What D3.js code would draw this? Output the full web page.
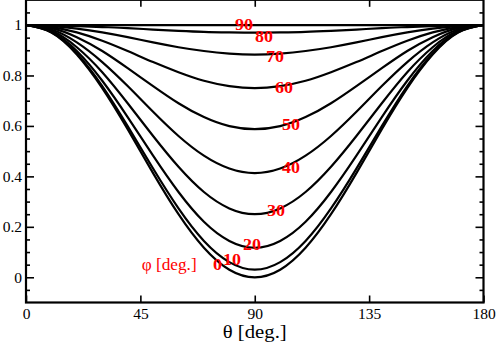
<!DOCTYPE html>
<html>
<head>
<meta charset="utf-8">
<script src="https://cdn.jsdelivr.net/npm/d3@7"></script>
<style>
  html, body { margin: 0; padding: 0; background: #fff; }
  svg { display: block; }
</style>
</head>
<body>
<svg id="chart" width="498" height="342"></svg>
<script>
// ---- data ----
const theta = [0, 10, 20, 30, 40, 50, 60, 70, 80, 90, 100, 110, 120, 130, 140, 150, 160, 170, 180];
const phiLabels = ["0", "10", "20", "30", "40", "50", "60", "70", "80", "90"];
const phi0  = [1, 0.970, 0.883, 0.750, 0.587, 0.413, 0.250, 0.117, 0.030, 0.000, 0.030, 0.117, 0.250, 0.413, 0.587, 0.750, 0.883, 0.970, 1];
const phi10 = [1, 0.971, 0.887, 0.758, 0.599, 0.431, 0.273, 0.144, 0.060, 0.030, 0.060, 0.144, 0.273, 0.431, 0.599, 0.758, 0.887, 0.971, 1];
const phi20 = [1, 0.973, 0.897, 0.779, 0.635, 0.482, 0.338, 0.220, 0.144, 0.117, 0.144, 0.220, 0.338, 0.482, 0.635, 0.779, 0.897, 0.973, 1];
const phi30 = [1, 0.977, 0.912, 0.813, 0.690, 0.560, 0.438, 0.338, 0.273, 0.250, 0.273, 0.338, 0.438, 0.560, 0.690, 0.813, 0.912, 0.977, 1];
const phi40 = [1, 0.982, 0.931, 0.853, 0.758, 0.656, 0.560, 0.482, 0.431, 0.413, 0.431, 0.482, 0.560, 0.656, 0.758, 0.853, 0.931, 0.982, 1];
const phi50 = [1, 0.988, 0.952, 0.897, 0.829, 0.758, 0.690, 0.635, 0.599, 0.587, 0.599, 0.635, 0.690, 0.758, 0.829, 0.897, 0.952, 0.988, 1];
const phi60 = [1, 0.992, 0.971, 0.938, 0.897, 0.853, 0.813, 0.779, 0.758, 0.750, 0.758, 0.779, 0.813, 0.853, 0.897, 0.938, 0.971, 0.992, 1];
const phi70 = [1, 0.996, 0.986, 0.971, 0.952, 0.931, 0.912, 0.897, 0.887, 0.883, 0.887, 0.897, 0.912, 0.931, 0.952, 0.971, 0.986, 0.996, 1];
const phi80 = [1, 0.999, 0.996, 0.992, 0.988, 0.982, 0.977, 0.973, 0.971, 0.970, 0.971, 0.973, 0.977, 0.982, 0.988, 0.992, 0.996, 0.999, 1];
const phi90 = [1, 1, 1, 1, 1, 1, 1, 1, 1, 1, 1, 1, 1, 1, 1, 1, 1, 1, 1];
const seriesValues = [phi0, phi10, phi20, phi30, phi40, phi50, phi60, phi70, phi80, phi90];
// label anchor points (theta, value) for each curve label
const labelTheta = [73.6, 77.5, 85.4, 94.8, 100.7, 100.7, 98.0, 94.4, 90.1, 82.2];
const labelValue = [0.029, 0.049, 0.108, 0.243, 0.413, 0.584, 0.730, 0.853, 0.933, 0.980];
const xTicks = [0, 45, 90, 135, 180];
const yTicks = [0, 0.2, 0.4, 0.6, 0.8, 1];
const yMinorTicks = [-0.05, 0.05, 0.1, 0.15, 0.25, 0.3, 0.35, 0.45, 0.5, 0.55, 0.65, 0.7, 0.75, 0.85, 0.9, 0.95, 1.05];

// ---- drawing ----
const svg = d3.select("#chart");
const serif = "Liberation Serif, Tinos, Nimbus Roman, Times New Roman, Times, DejaVu Serif, serif";
const x = d3.scaleLinear().domain([0, 180]).range([26, 483.5]);
const y = d3.scaleLinear().domain([-0.1, 1.1]).range([302.5, -0.2]);

const line = d3.line()
  .x((d, i) => x(theta[i]))
  .y(d => y(d))
  .curve(d3.curveNatural);

svg.append("g").selectAll("path")
  .data(seriesValues)
  .join("path")
  .attr("d", d => line(d))
  .attr("fill", "none")
  .attr("stroke", "#000")
  .attr("stroke-width", 2.2);

// curve labels
svg.append("g").selectAll("text")
  .data(phiLabels)
  .join("text")
  .attr("x", (d, i) => x(labelTheta[i]))
  .attr("y", (d, i) => y(labelValue[i]))
  .attr("fill", "#ff0000")
  .style("font-family", serif)
  .attr("font-weight", "bold")
  .attr("font-size", 16.5)
  .attr("textLength", d => d.length * 9)
  .attr("lengthAdjust", "spacingAndGlyphs")
  .text(d => d);

svg.append("text")
  .attr("x", x(45.5))
  .attr("y", y(0.029))
  .attr("fill", "#ff0000")
  .style("font-family", serif)
  .attr("font-size", 16)
  .attr("textLength", 55)
  .attr("lengthAdjust", "spacingAndGlyphs")
  .text("\u03c6 [deg.]");

// axes
function styleAxis(g) {
  g.attr("font-family", null);
  g.select(".domain").remove();
  g.selectAll(".tick line").attr("stroke", "#000").attr("stroke-width", 1.6);
  g.selectAll(".tick text").attr("fill", "#000").style("font-family", serif).attr("font-size", 15.5);
}
svg.append("g").attr("transform", `translate(0,${y(-0.1)})`)
  .call(d3.axisBottom(x).tickValues(xTicks).tickSize(-7).tickPadding(5.5).tickFormat(d3.format("d")))
  .call(styleAxis);
svg.append("g").attr("transform", `translate(0,${y(1.1)})`)
  .call(d3.axisTop(x).tickValues(xTicks.slice(1, -1)).tickSize(-7).tickFormat(""))
  .call(styleAxis);
svg.append("g").attr("transform", `translate(${x(0)},0)`)
  .call(d3.axisLeft(y).tickValues(yTicks).tickSize(-8).tickPadding(4).tickFormat(d => String(+d.toFixed(1))))
  .call(styleAxis);
svg.append("g").attr("transform", `translate(${x(0)},0)`)
  .call(d3.axisLeft(y).tickValues(yMinorTicks).tickSize(-4).tickFormat(""))
  .call(styleAxis);
svg.append("g").attr("transform", `translate(${x(180)},0)`)
  .call(d3.axisRight(y).tickValues(yTicks).tickSize(-8).tickFormat(""))
  .call(styleAxis);
svg.append("g").attr("transform", `translate(${x(180)},0)`)
  .call(d3.axisRight(y).tickValues(yMinorTicks).tickSize(-4).tickFormat(""))
  .call(styleAxis);

// frame
svg.append("rect")
  .attr("x", x(0)).attr("y", y(1.1))
  .attr("width", x(180) - x(0)).attr("height", y(-0.1) - y(1.1))
  .attr("fill", "none").attr("stroke", "#000").attr("stroke-width", 2.2);

// axis title
svg.append("text")
  .attr("x", x(90)).attr("y", 338)
  .attr("text-anchor", "middle")
  .style("font-family", serif)
  .attr("font-size", 19)
  .attr("textLength", 64)
  .attr("lengthAdjust", "spacingAndGlyphs")
  .attr("fill", "#000")
  .text("\u03b8 [deg.]");
</script>
</body>
</html>
